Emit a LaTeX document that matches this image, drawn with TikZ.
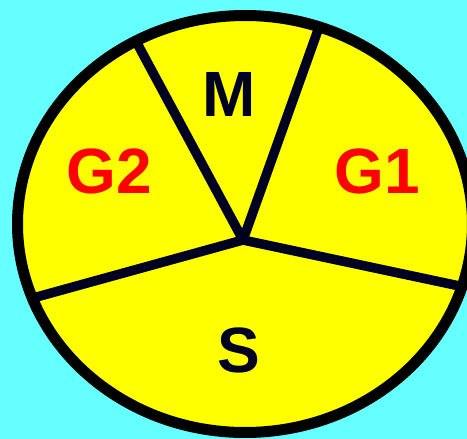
\documentclass[tikz,border=0pt]{standalone}
\usepackage{fontspec}
\setmainfont{Liberation Sans}
\definecolor{bgcyan}{HTML}{66FFFF}
\definecolor{pieyellow}{HTML}{FFFF00}
\definecolor{darknavy}{HTML}{000020}
\definecolor{labelred}{HTML}{FF0000}
\def\rimpath{(245,224) ellipse [x radius=227.5pt, y radius=208.5pt]}
\begin{document}
\begin{tikzpicture}[x=1pt,y=-1pt,
  lbl/.style={font=\fontsize{64}{64}\selectfont\bfseries, inner sep=0pt, anchor=base},
  divider/.style={draw=darknavy, line width=9.5pt, line cap=round},
  rim/.style={draw=black, line width=11pt}]
\fill[bgcyan] (0,0) rectangle (467,439);
\useasboundingbox (0,0) rectangle (467,439);
\begin{scope}
  \clip (0,0) rectangle (467,439);
  \fill[pieyellow] \rimpath;
  \coordinate (c) at (243,240);
  \coordinate (tl) at (127.5,25.5);
  \coordinate (tr) at (325.5,9);
  \coordinate (lf) at (12,303.8);
  \coordinate (rt) at (476,289.5);
  \begin{scope}
    \clip \rimpath;
    \draw[divider] (c) -- (tl);
    \draw[divider] (c) -- (tr);
    \draw[divider] (c) -- (lf);
    \draw[divider] (c) -- (rt);
  \end{scope}
  \draw[rim] \rimpath;
\end{scope}
\node[lbl, text=darknavy] (m) at (229.5,116) {M};
\node[lbl, text=labelred] (g2) at (109,193) {G2};
\node[lbl, text=labelred] (g1) at (377,193) {G1};
\node[lbl, text=darknavy] (s) at (239,372) {S};
\end{tikzpicture}
\end{document}
